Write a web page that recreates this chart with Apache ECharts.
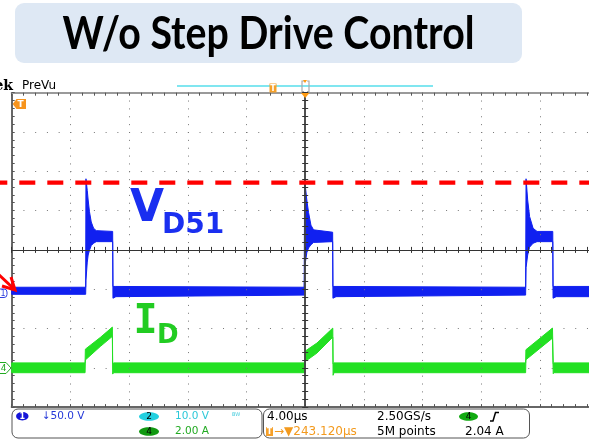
<!DOCTYPE html>
<html><head><meta charset="utf-8">
<script src="https://cdn.jsdelivr.net/npm/echarts@6/dist/echarts.min.js"></script>
<style>html,body{margin:0;padding:0;background:#fff}#c{width:589px;height:444px}</style>
</head><body><div id="c"></div>
<script>
// ---- scope settings (4 µs/div, trigger at centre) ----
const timeMin = -20, timeMax = 20, timeStep = 4;       // µs
const divMin = -4, divMax = 4;                          // vertical divisions
const ch1VoltsPerDiv = 50, ch1Offset = -1.05;           // V_D51 channel
const ch4AmpsPerDiv = 2, ch4Offset = -3.0;              // I_D channel
const vLimit = 138;                                     // red dashed level (V)

// ---- V_D51 trace envelope (time µs, upper V, lower V) ----
const vdT  = [-20, -14.96, -14.94, -14.85, -14.79, -14.70, -14.58, -14.42, -14.24, -13.12, -13.10, -12.9, -0.07, -0.04, 0.11, 0.23, 0.39, 0.57, 1.87, 1.89, 2.1, 15.02, 15.05, 15.16, 15.29, 15.53, 15.80, 16.87, 16.89, 17.1, 20];
const vdHi = [5, 5, 143, 128, 116, 101, 88, 80, 77, 76, 6, 6, 5, 142, 116, 100, 84, 78, 75, 6, 6, 5, 143, 116, 95, 80, 76, 76, 6, 6, 6];
const vdLo = [-4, -4, 14, 37, 46, 52, 58, 61, 63, 63, -9, -7, -5, 30, 49, 55, 59, 62, 63, -9, -7, -5, 30, 46, 56, 61, 63, 63, -9, -7, -7];

// ---- I_D trace envelope (time µs, upper A, lower A) ----
const idT  = [-20, -15.00, -14.98, -13.97, -13.14, -13.12, -13.06, -0.02, 0.00, 0.80, 1.88, 1.90, 1.96, 15.02, 15.04, 16.85, 16.90, 16.96, 20];
const idHi = [0.25, 0.25, 0.95, 1.54, 2.07, 0.2, 0.25, 0.25, 0.85, 1.26, 2.02, 0.2, 0.25, 0.25, 0.92, 2.02, 0.2, 0.25, 0.25];
const idLo = [-0.25, -0.25, 0.4, 1.08, 1.6, -0.32, -0.25, -0.25, 0.32, 0.75, 1.56, -0.38, -0.25, -0.25, 0.41, 1.51, -0.3, -0.25, -0.25];

const titleText = 'W/o Step Drive Control';

const chart = echarts.init(document.getElementById('c'), null, {renderer: 'canvas', width: 589, height: 444});

function xAx(extra) {
  return Object.assign({type: 'value', min: timeMin, max: timeMax, interval: timeStep,
    axisLabel: {show: false}, splitLine: {show: false}, axisTick: {show: false}, minorTick: {show: false}}, extra);
}
function yAx(extra) {
  return Object.assign({type: 'value', min: divMin, max: divMax, interval: 1,
    axisLabel: {show: false}, splitLine: {show: false}, axisTick: {show: false}, minorTick: {show: false}}, extra);
}
const tick = (c, inside) => ({show: true, inside: inside, length: 3, lineStyle: {color: c}});
const minor = (c) => ({show: true, splitNumber: 5, length: 3, lineStyle: {color: c}});

function band(T, Hi, Lo, perDiv, off, color) {
  return {
    type: 'custom', coordinateSystem: 'cartesian2d', data: [[0, 0]], silent: true, z: 2,
    renderItem: function (params, api) {
      const pts = [];
      for (let i = 0; i < T.length; i++) pts.push(api.coord([T[i], Hi[i] / perDiv + off]));
      for (let i = T.length - 1; i >= 0; i--) pts.push(api.coord([T[i], Lo[i] / perDiv + off]));
      return {type: 'polygon', shape: {points: pts}, style: {fill: color, stroke: color, lineWidth: 1}};
    }
  };
}

chart.setOption({
  animation: false,
  backgroundColor: '#ffffff',
  grid: {left: 11.7, top: 92.7, width: 587, height: 314.4, containLabel: false, outerBoundsMode: 'none'},
  xAxis: [
    xAx({position: 'bottom', z: 3, axisLine: {onZero: true, onZeroAxisIndex: 0, lineStyle: {color: '#333', width: 1}},
      axisTick: tick('#333', false), minorTick: minor('#333'),
      splitLine: {show: true, lineStyle: {color: '#777', width: 1, type: [1, 6.86]}}}),
    xAx({position: 'top', z: 3, axisLine: {onZero: true, onZeroAxisIndex: 0, lineStyle: {color: '#333', width: 1}},
      axisTick: tick('#333', false), minorTick: minor('#333')}),
    xAx({position: 'top', axisLine: {onZero: false, lineStyle: {color: '#9a9a9a', width: 2}},
      axisTick: tick('#555', true), minorTick: minor('#555')}),
    xAx({position: 'bottom', axisLine: {onZero: false, lineStyle: {color: '#666', width: 2}},
      axisTick: tick('#555', true), minorTick: minor('#555')})
  ],
  yAxis: [
    yAx({position: 'left', axisLine: {onZero: false, lineStyle: {color: '#333', width: 1.5}},
      axisTick: tick('#555', true), minorTick: minor('#555'),
      splitLine: {show: true, lineStyle: {color: '#777', width: 1, type: [1, 10.74]}}}),
    yAx({position: 'left', z: 3, axisLine: {onZero: true, onZeroAxisIndex: 0, lineStyle: {color: '#444', width: 1.5}},
      axisTick: tick('#333', false), minorTick: minor('#333')}),
    yAx({position: 'right', z: 3, axisLine: {onZero: true, onZeroAxisIndex: 0, lineStyle: {color: '#444', width: 1.5}},
      axisTick: tick('#333', false), minorTick: minor('#333')})
  ],
  series: [
    band(idT, idHi, idLo, ch4AmpsPerDiv, ch4Offset, '#22e022'),
    band(vdT, vdHi, vdLo, ch1VoltsPerDiv, ch1Offset, '#1020f0')
  ]
});

const limY = chart.convertToPixel({xAxisIndex: 0, yAxisIndex: 0}, [0, vLimit / ch1VoltsPerDiv + ch1Offset])[1];
const F = '"DejaVu Sans"';
const titleFont = 'bold 46px Lato';
const mctx = document.createElement('canvas').getContext('2d');
mctx.font = titleFont;
const titleScale = 412 / mctx.measureText(titleText).width;

const txt = (x, y, s, font, fill, align, extra) => Object.assign({type: 'text', x: x, y: y, z: 20,
  style: {text: s, font: font, fill: fill, textAlign: align || 'left', textVerticalAlign: 'middle'}}, extra || {});

chart.setOption({
  graphic: [
    // title
    {type: 'rect', z: 10, shape: {x: 15, y: 3, width: 507, height: 60, r: 9}, style: {fill: '#dee8f4'}},
    txt(268.5, 34, titleText, titleFont, '#000', 'center', {scaleX: titleScale}),
    // scope header
    txt(13, 86, 'Tek', 'bold 14px "DejaVu Serif"', '#000', 'right'),
    txt(22, 86, 'PreVu', '12px ' + F, '#000', 'left'),
    {type: 'line', z: 10, shape: {x1: 177, y1: 86, x2: 433, y2: 86}, style: {stroke: '#80e6f0', lineWidth: 2}},
    {type: 'rect', z: 11, shape: {x: 269.5, y: 83.5, width: 7, height: 9}, style: {fill: '#f5a02a'}},
    txt(273, 88.5, 'T', 'bold 8px ' + F, '#fff', 'center'),
    {type: 'polyline', z: 11, shape: {points: [[304, 81], [302, 81], [302, 91.5], [304, 91.5]]}, style: {stroke: '#aaa', lineWidth: 1.2, fill: null}},
    {type: 'polyline', z: 11, shape: {points: [[307, 81], [309, 81], [309, 91.5], [307, 91.5]]}, style: {stroke: '#aaa', lineWidth: 1.2, fill: null}},
    {type: 'polygon', z: 11, shape: {points: [[303, 80], [307, 80], [305, 83]]}, style: {fill: '#ff9a10'}},
    {type: 'polygon', z: 11, shape: {points: [[301, 93], [309.5, 93], [305.2, 98]]}, style: {fill: '#ff9a10'}},
    // trigger position marker in plot
    {type: 'polygon', z: 11, shape: {points: [[12.7, 104], [16.5, 99], [26, 99], [26, 109], [16.5, 109]]}, style: {fill: '#f7941d'}},
    txt(20.5, 104.5, 'T', 'bold 9px ' + F, '#fff', 'center'),
    // red dashed limit
    {type: 'line', z: 12, shape: {x1: -8.7, y1: limY, x2: 600, y2: limY}, style: {stroke: '#ff0000', lineWidth: 4.3, lineDash: [16, 12]}},
    // channel ground markers
    {type: 'rect', z: 11, shape: {x: -6, y: 289, width: 13, height: 8.5, r: 3}, style: {fill: '#fff', stroke: '#3040e0', lineWidth: 1}},
    txt(3, 293.5, '1', '8px ' + F, '#3040e0', 'center'),
    {type: 'polygon', z: 11, shape: {points: [[-3, 362.5], [6, 362.5], [11, 368], [6, 373.5], [-3, 373.5]]}, style: {fill: '#fff', stroke: '#22aa22', lineWidth: 1}},
    txt(3.5, 368.5, '4', '9px ' + F, '#22aa22', 'center'),
    // red arrow
    {type: 'line', z: 13, shape: {x1: -4, y1: 272, x2: 13, y2: 288}, style: {stroke: '#ff0000', lineWidth: 3}},
    {type: 'polyline', z: 13, shape: {points: [[2, 286], [15, 290], [11, 277]]}, style: {stroke: '#ff0000', lineWidth: 3, fill: null}},
    // trace labels
    txt(130, 210, 'V', 'bold 44px ' + F, '#1a2ff0', 'left'),
    txt(162, 225.5, 'D51', 'bold 28px ' + F, '#1a2ff0', 'left'),
    txt(145.5, 322.5, 'I', 'bold 40px "DejaVu Sans Mono"', '#22cc22', 'center'),
    txt(157, 336.5, 'D', 'bold 26px ' + F, '#22cc22', 'left'),
    // bottom panels
    {type: 'rect', z: 10, shape: {x: 12, y: 409, width: 250, height: 29, r: 6}, style: {fill: '#fff', stroke: '#555', lineWidth: 1}},
    {type: 'rect', z: 10, shape: {x: 263.5, y: 409, width: 266, height: 29, r: 6}, style: {fill: '#fff', stroke: '#555', lineWidth: 1}},
    {type: 'ellipse', z: 11, shape: {cx: 22.3, cy: 416.3, rx: 6.2, ry: 4.2}, style: {fill: '#1515d8'}},
    txt(22.3, 416.6, '1', 'bold 8px ' + F, '#fff', 'center'),
    txt(41.7, 416.5, '↓50.0 V', '10.5px ' + F, '#2438d8', 'left'),
    {type: 'ellipse', z: 11, shape: {cx: 149, cy: 416.5, rx: 10, ry: 4.3}, style: {fill: '#22d0e0'}},
    txt(149, 416.8, '2', '9px ' + F, '#000', 'center'),
    txt(175, 416.5, '10.0 V', '10.5px ' + F, '#2cc8d8', 'left'),
    txt(232, 415, 'BW', '5px ' + F, '#44ccdd', 'left'),
    {type: 'ellipse', z: 11, shape: {cx: 149, cy: 431.5, rx: 10, ry: 4.3}, style: {fill: '#119911'}},
    txt(149, 431.8, '4', '9px ' + F, '#000', 'center'),
    txt(175, 431.5, '2.00 A', '10.5px ' + F, '#22aa22', 'left'),
    txt(267, 416.5, '4.00µs', '12px ' + F, '#000', 'left'),
    txt(377, 416.5, '2.50GS/s', '12px ' + F, '#000', 'left'),
    {type: 'ellipse', z: 11, shape: {cx: 468.5, cy: 416.5, rx: 9.5, ry: 4.3}, style: {fill: '#11aa11'}},
    txt(468.5, 416.8, '4', '9px ' + F, '#000', 'center'),
    {type: 'polyline', z: 11, shape: {points: [[490, 421], [493, 421], [495.5, 412.5], [499, 412.5]]}, style: {stroke: '#000', lineWidth: 1.5, fill: null}},
    {type: 'rect', z: 11, shape: {x: 266, y: 427, width: 7, height: 9}, style: {fill: '#f5a02a'}},
    txt(269.5, 431.8, 'T', 'bold 8px ' + F, '#fff', 'center'),
    txt(274, 431.5, '→▼243.120µs', '12px ' + F, '#f39a1e', 'left'),
    txt(377, 431.5, '5M points', '12px ' + F, '#000', 'left'),
    txt(465, 431.5, '2.04 A', '12px ' + F, '#000', 'left')
  ]
});
</script>
</body></html>
